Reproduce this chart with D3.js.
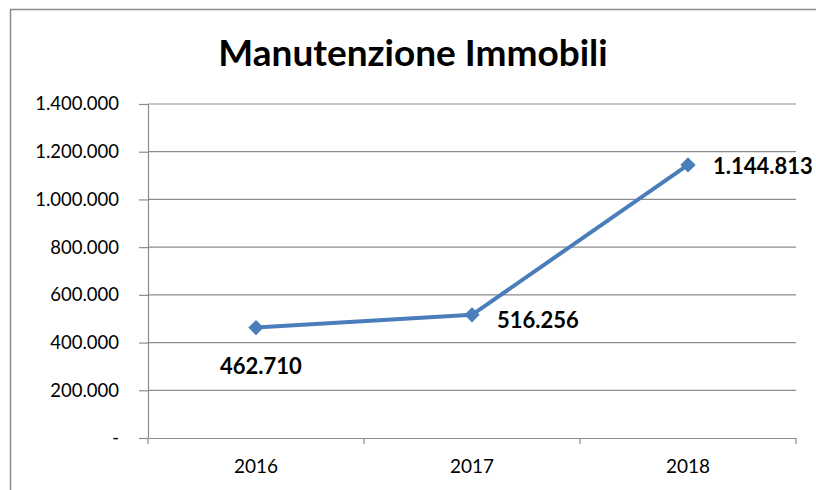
<!DOCTYPE html>
<html>
<head>
<meta charset="utf-8">
<script src="https://cdn.jsdelivr.net/npm/d3@7"></script>
<style>
  body { margin: 0; background: #fff; }
  text { font-family: Lato, "Open Sans", sans-serif; }
</style>
</head>
<body>
<script>
// data
var years = ["2016", "2017", "2018"];
var costs = [462710, 516256, 1144813];
var yTicks = [0, 200000, 400000, 600000, 800000, 1000000, 1200000, 1400000];
var labelOffsets = [[5, 46], [66, 13], [75, 9]]; // label baseline offsets from points

var W = 816, H = 490;
var margin = {top: 104, right: 20, bottom: 52, left: 148};
var w = W - margin.left - margin.right;
var h = H - margin.top - margin.bottom;

var fmt = function (v) {
    if (v === 0) return "-";
    return d3.format(",")(v).replace(/,/g, ".");
};

var svg = d3.select("body").append("svg")
    .attr("width", W)
    .attr("height", H);

// outer frame
svg.append("rect")
    .attr("x", 10.5).attr("y", 9.5)
    .attr("width", W).attr("height", H)
    .attr("fill", "none")
    .attr("stroke", "#8c8c8c")
    .attr("stroke-width", 1.5);

svg.append("text")
    .attr("x", 413).attr("y", 66)
    .attr("text-anchor", "middle")
    .attr("font-size", 37)
    .attr("font-weight", "bold")
    .text("Manutenzione Immobili");

var g = svg.append("g")
    .attr("transform", "translate(" + margin.left + "," + margin.top + ")");

var x = d3.scaleBand().domain(years).range([0, w]);
var y = d3.scaleLinear().domain([0, 1400000]).range([h, 0]);

// gridlines
g.selectAll(".grid")
    .data(yTicks.slice(1))
    .enter().append("line")
    .attr("x1", 0).attr("x2", w)
    .attr("y1", function (d) { return y(d); })
    .attr("y2", function (d) { return y(d); })
    .attr("stroke", "#8c8c8c")
    .attr("stroke-width", 1.2);

var yAxis = g.append("g")
    .call(d3.axisLeft(y).tickValues(yTicks).tickFormat(fmt).tickSize(9).tickPadding(20));
yAxis.select(".domain").attr("stroke", "#8c8c8c").attr("stroke-width", 1.2);
yAxis.selectAll(".tick line").attr("stroke", "#8c8c8c").attr("stroke-width", 1.2);
yAxis.selectAll("text").attr("font-size", 18.5).attr("fill", "#000")
    .style("font-family", "Lato, sans-serif");

var xAxis = g.append("g")
    .attr("transform", "translate(0," + h + ")")
    .call(d3.axisBottom(x).tickSize(0).tickPadding(22));
xAxis.select(".domain").attr("stroke", "#8c8c8c").attr("stroke-width", 1.2);
xAxis.selectAll("text").attr("font-size", 19).attr("fill", "#000")
    .style("font-family", "Lato, sans-serif");

// category boundary ticks
var bounds = years.map(function (d) { return x(d); }).concat([w]);
g.selectAll(".xt")
    .data(bounds)
    .enter().append("line")
    .attr("x1", function (d) { return d; })
    .attr("x2", function (d) { return d; })
    .attr("y1", h).attr("y2", h + 6)
    .attr("stroke", "#8c8c8c")
    .attr("stroke-width", 1.2);

var cx = function (d, i) { return x(years[i]) + x.bandwidth() / 2; };

var line = d3.line()
    .x(function (d, i) { return cx(d, i); })
    .y(function (d) { return y(d); });

g.append("path")
    .datum(costs)
    .attr("d", line)
    .attr("fill", "none")
    .attr("stroke", "#4a7ebb")
    .attr("stroke-width", 4);

g.selectAll(".pt")
    .data(costs)
    .enter().append("path")
    .attr("d", d3.symbol().type(d3.symbolDiamond2).size(150))
    .attr("transform", function (d, i) { return "translate(" + cx(d, i) + "," + y(d) + ")"; })
    .attr("fill", "#4a7ebb");

g.selectAll(".lbl")
    .data(costs)
    .enter().append("text")
    .attr("x", function (d, i) { return cx(d, i) + labelOffsets[i][0]; })
    .attr("y", function (d, i) { return y(d) + labelOffsets[i][1]; })
    .attr("text-anchor", "middle")
    .attr("font-size", 22)
    .attr("font-weight", "bold")
    .text(fmt);
</script>
</body>
</html>
